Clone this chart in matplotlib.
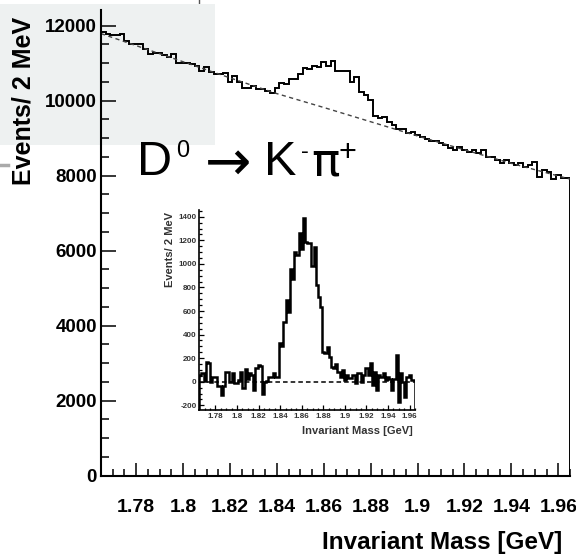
import matplotlib
matplotlib.use('Agg')
import matplotlib.pyplot as plt
import numpy as np
from matplotlib.patches import Rectangle
from matplotlib.lines import Line2D
from matplotlib.ticker import MultipleLocator

plt.rcParams['font.family'] = ['Liberation Sans', 'DejaVu Sans']

# 100 bins of 2 MeV between 1.765 and 1.965 GeV
x_lo, x_hi, n_bins = 1.765, 1.965, 100

# K- pi+ invariant mass, events per bin
main_counts = [
    11822, 11778, 11750, 11750, 11769, 11600, 11502, 11510, 11510, 11378,
    11236, 11262, 11262, 11226, 11173, 11236, 11013, 11013, 11000, 10978,
    10924, 10800, 10906, 10773, 10711, 10711, 10729, 10507, 10658, 10507,
    10329, 10329, 10400, 10311, 10311, 10267, 10213, 10329, 10462, 10435,
    10569, 10580, 10700, 10862, 10850, 10924, 10906, 11022, 10924, 11067,
    10802, 10802, 10802, 10508, 10642, 10242, 10153, 10020, 9593, 9549,
    9575, 9442, 9353, 9246, 9246, 9131, 9175, 9086, 9024, 8970,
    8935, 8935, 8864, 8820, 8731, 8686, 8775, 8686, 8642, 8686,
    8615, 8686, 8491, 8491, 8420, 8331, 8420, 8331, 8287, 8331,
    8242, 8287, 8367, 7967, 8153, 8109, 7905, 8020, 7949, 7931,
]

# background fit, sampled along the mass axis
bg_mass = [1.765, 1.78, 1.80, 1.82, 1.84, 1.86, 1.88, 1.90, 1.92, 1.94, 1.965]
bg_counts = [11790, 11470, 11040, 10610, 10190, 9820, 9440, 9060, 8690, 8330, 7910]

# background-subtracted spectrum
sub_counts = [
    60, 70, 10, 170, 160, 0, 40, 40, -40, -40,
    -110, -40, 85, 80, 0, 70, -15, -15, 15, 85,
    -55, 110, 20, 70, 60, -70, 113, 141, 130, -100,
    0, 10, 40, 42, 70, 42, 42, 325, 300, 510,
    690, 594, 953, 868, 1100, 1075, 1264, 1130, 1386, 1188,
    1180, 1175, 981, 1145, 820, 721, 630, 255, 240, 297,
    212, 127, 113, 150, 85, 42, 99, 14, 57, 28,
    28, 57, -14, 70, 70, 0, 57, 113, 57, 155,
    -28, 85, -70, 57, 40, 70, 14, 40, 20, -70,
    20, 226, -170, 70, 0, -127, 42, 57, 14, 14,
]

mass_ticks = [1.78, 1.80, 1.82, 1.84, 1.86, 1.88, 1.90, 1.92, 1.94, 1.96]
mass_labels = ['1.78', '1.8', '1.82', '1.84', '1.86', '1.88', '1.9', '1.92', '1.94', '1.96']
main_yticks = [0, 2000, 4000, 6000, 8000, 10000, 12000]
main_ylabels = ['0', '2000', '4000', '6000', '8000', '10000', '12000']
sub_yticks = [-200, 0, 200, 400, 600, 800, 1000, 1200, 1400]
sub_ylabels = ['-200', '0', '200', '400', '600', '800', '1000', '1200', '1400']

edges = np.linspace(x_lo, x_hi, n_bins + 1)
W, H = 576, 554

fig = plt.figure(figsize=(W / 100, H / 100), dpi=100)
fig.patch.set_facecolor('white')

# pale slide background behind the upper left corner
fig.patches.append(Rectangle((0, 1 - 145 / H), 215 / W, 141 / H,
                             transform=fig.transFigure, facecolor='#eef1f1',
                             edgecolor='none', zorder=-5))
fig.lines.append(Line2D([199 / W, 199 / W], [1, 1 - 11 / H], transform=fig.transFigure,
                        color='#555555', lw=1, zorder=-5))
fig.lines.append(Line2D([0, 8 / W], [1 - 165 / H, 1 - 165 / H], transform=fig.transFigure,
                        color='#aaaaaa', lw=2.5, zorder=-5))


def px_axes(left, right, top, bottom):
    return fig.add_axes([left / W, 1 - bottom / H, (right - left) / W, (bottom - top) / H])


def px_text(x, y, s, **kw):
    return fig.text(x / W, 1 - y / H, s, **kw)


# main spectrum
ax = px_axes(101, 570, 10, 475.7)
ax.set_facecolor('none')
ax.stairs(main_counts, edges, baseline=0, color='black', lw=1.4)
ax.plot(bg_mass, bg_counts, ls=(0, (3, 2.5)), color='#444444', lw=1.0)
ax.set_xlim(x_lo, x_hi)
ax.set_ylim(0, 12420)
for s in ['top', 'right']:
    ax.spines[s].set_visible(False)
for s in ['left', 'bottom']:
    ax.spines[s].set_linewidth(1.5)
ax.set_xticks(mass_ticks)
ax.set_xticklabels(mass_labels, fontsize=14, fontweight='bold')
ax.set_yticks(main_yticks)
ax.set_yticklabels(main_ylabels, fontsize=13.5, fontweight='bold')
ax.xaxis.set_minor_locator(MultipleLocator(0.005))
ax.yaxis.set_minor_locator(MultipleLocator(500))
ax.tick_params(axis='x', which='major', direction='in', length=9.4, width=1.1, pad=17)
ax.tick_params(axis='x', which='minor', direction='in', length=4.7, width=1.1)
ax.tick_params(axis='y', which='major', direction='in', length=10.8, width=1.1, pad=3)
ax.tick_params(axis='y', which='minor', direction='in', length=5.8, width=1.1)

px_text(562, 549, 'Invariant Mass [GeV]', ha='right', va='baseline',
        fontsize=17.5, fontweight='bold')
px_text(24, 17, 'Events/ 2 MeV', ha='center', va='top', rotation=90,
        fontsize=18, fontweight='bold')

# decay label, pieced together so the superscripts sit like the slide's
px_text(137, 175, 'D', ha='left', va='baseline', fontsize=35)
px_text(176, 157, '0', ha='left', va='baseline', fontsize=17)
px_text(205, 180, '\u2192', ha='left', va='baseline', fontsize=40, family='DejaVu Sans')
px_text(264, 175, 'K', ha='left', va='baseline', fontsize=35)
px_text(301, 158, '-', ha='left', va='baseline', fontsize=17)
px_text(311, 175, '\u03c0', ha='left', va='baseline', fontsize=34, family='DejaVu Sans')
px_text(339, 161, '+', ha='left', va='baseline', fontsize=22)

# inset: background subtracted
ins_lo = -240
axi = px_axes(199.3, 415, 210, 410)
axi.set_facecolor('none')
axi.stairs(sub_counts, edges, baseline=ins_lo, color='black', lw=1.8)
axi.plot([x_lo, x_hi], [0, 0], ls=(0, (3, 2)), color='black', lw=1.1)
axi.set_xlim(x_lo, x_hi)
axi.set_ylim(ins_lo, 1457)
for s in ['top', 'right']:
    axi.spines[s].set_visible(False)
for s in ['left', 'bottom']:
    axi.spines[s].set_linewidth(1.2)
axi.set_xticks(mass_ticks)
axi.set_xticklabels(mass_labels, fontsize=5.8, fontweight='bold', color='#333333')
axi.set_yticks(sub_yticks)
axi.set_yticklabels(sub_ylabels, fontsize=5.8, fontweight='bold', color='#333333')
axi.xaxis.set_minor_locator(MultipleLocator(0.005))
axi.yaxis.set_minor_locator(MultipleLocator(50))
axi.tick_params(axis='both', which='major', direction='in', length=3.5, width=0.9, pad=2)
axi.tick_params(axis='both', which='minor', direction='in', length=1.8, width=0.9)

px_text(413, 434, 'Invariant Mass [GeV]', ha='right', va='baseline',
        fontsize=8, fontweight='bold', color='#333333')
px_text(170, 212, 'Events/ 2 MeV', ha='center', va='top', rotation=90,
        fontsize=8, fontweight='bold', color='#333333')

fig.savefig('out.png', dpi=100)
